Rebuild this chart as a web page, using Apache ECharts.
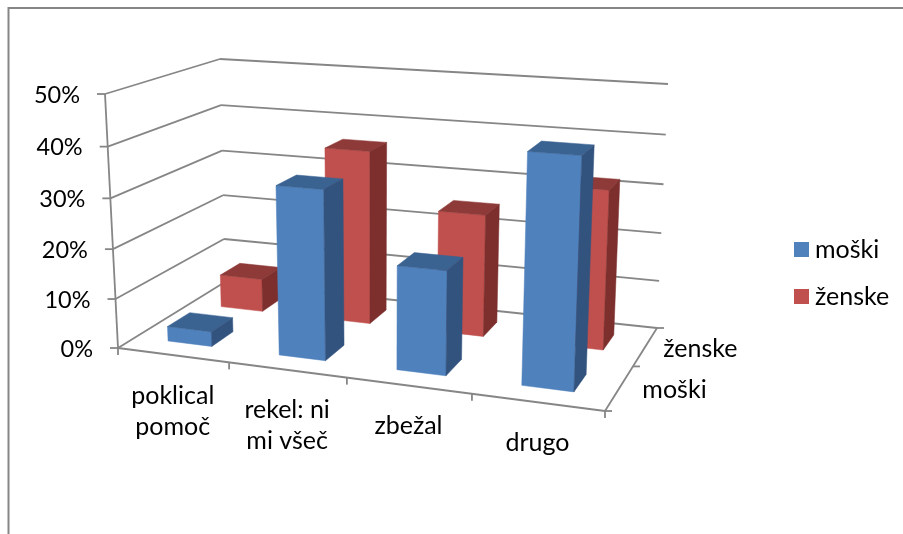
<!DOCTYPE html>
<html>
<head>
<meta charset="utf-8">
<style>
  html, body { margin: 0; padding: 0; background: #fff; }
  #chart { width: 903px; height: 534px; }
</style>
<script src="https://cdn.jsdelivr.net/npm/echarts@6/dist/echarts.min.js"></script>
</head>
<body>
<div id="chart"></div>
<script>
// data
const categories = ['poklical\npomoč', 'rekel: ni\nmi všeč', 'zbežal', 'drugo']
const depthLabels = ['moški', 'ženske']
const moski = [3, 33.5, 20.3, 43.6]
const zenske = [7, 36, 25, 32]
const yTicks = [0, 10, 20, 30, 40, 50]

const FONT = '25px Lato, Carlito, "Open Sans", sans-serif'
const FONT_NUM = '23.5px Lato, Carlito, "Open Sans", sans-serif'
const LINE = '#868686'
const BLUE = { front: '#4f81bd', top: '#3b6392', side: '#32537e' }
const RED = { front: '#c0504d', top: '#8e3a38', side: '#7d2f2d' }

// corners of the floor and of the top plane of the 3d box (front-left, front-right, back-right, back-left)
const floorQuad = [[118, 348], [605, 411], [657, 328], [225, 282]]
const topQuad = [[105, 94], [616, 130], [668, 84], [220, 59]]

// perspective divisor of the floor, the top plane shares it
const perspective = (q) => {
  const [[x0, y0], [x1, y1], [x2, y2], [x3, y3]] = q
  const dx1 = x1 - x2, dx2 = x3 - x2, sx = x0 - x1 + x2 - x3
  const dy1 = y1 - y2, dy2 = y3 - y2, sy = y0 - y1 + y2 - y3
  const det = dx1 * dy2 - dx2 * dy1
  return {
    g: 0.9 * (sx * dy2 - dx2 * sy) / det, // eased a bit so the category ticks land right
    h: (dx1 * sy - sx * dy1) / det
  }
}
const { g, h } = perspective(floorQuad)

const mapQuad = (q, u, v) => {
  const w = (a, b) => 1 + g * a + h * b
  const out = [0, 1].map((k) => (
    q[0][k] * (1 - u) * (1 - v) +
    q[1][k] * w(1, 0) * u * (1 - v) +
    q[2][k] * w(1, 1) * u * v +
    q[3][k] * w(0, 1) * (1 - u) * v
  ) / w(u, v))
  return out
}

// u across categories, v into the depth, t up the value axis, all 0..1
const project = (u, v, t) => {
  const a = mapQuad(floorQuad, u, v)
  const b = mapQuad(topQuad, u, v)
  const tt = t * (1 - 0.045 * (1 - t))
  return [a[0] + (b[0] - a[0]) * tt, a[1] + (b[1] - a[1]) * tt]
}

// grid pixel -> box fractions, so the value scale stays with the axes
const toU = (px, sys) => (px - sys.x) / sys.width
const toT = (py, sys) => (sys.y + sys.height - py) / sys.height

const lineEl = (a, b) => ({
  type: 'line',
  shape: { x1: a[0], y1: a[1], x2: b[0], y2: b[1] },
  style: { stroke: LINE, lineWidth: 1.8 }
})

const textEl = (text, x, y, align, verticalAlign, font) => ({
  type: 'text',
  style: { text, x, y, align, verticalAlign, font: font || FONT, fill: '#000', lineHeight: 31 }
})

// one bar, drawn as front, top and side faces
const renderBar = (depthIndex, colors) => (params, api) => {
  const sys = params.coordSys
  const p = api.coord([api.value(0), api.value(1)])
  const u = toU(p[0], sys)
  const t = toT(p[1], sys)
  const du = 0.05
  const v0 = (depthIndex + 0.5) / 2 - 0.1
  const v1 = v0 + 0.2
  const u0 = u - du
  const u1 = u + du
  const face = (points, fill) => ({
    type: 'polygon',
    shape: { points },
    style: { fill, stroke: fill, lineWidth: 0.5 }
  })
  return {
    type: 'group',
    children: [
      face([project(u0, v0, 0), project(u1, v0, 0), project(u1, v0, t), project(u0, v0, t)], colors.front),
      face([project(u0, v0, t), project(u1, v0, t), project(u1, v1, t), project(u0, v1, t)], colors.top),
      face([project(u1, v0, 0), project(u1, v1, 0), project(u1, v1, t), project(u1, v0, t)], colors.side)
    ]
  }
}

// gridlines and value labels, one item per tick
const renderGridline = (params, api) => {
  const sys = params.coordSys
  const val = api.value(0)
  const t = toT(api.coord([0, val])[1], sys)
  const a = project(0, 0, t)
  const b = project(0, 1, t)
  const c = project(1, 1, t)
  return {
    type: 'group',
    children: [
      lineEl(a, b),
      lineEl(b, c),
      lineEl([a[0] - 8, a[1]], a),
      textEl(val + '%', a[0] - 25, a[1] + 1, 'right', 'middle', FONT_NUM)
    ]
  }
}

// category ticks and labels on the front edge
const renderCategory = (params, api) => {
  const sys = params.coordSys
  const i = api.value(0)
  const u = toU(api.coord([i, 0])[0], sys)
  const step = 1 / categories.length
  const base = project(u, 0, 0)
  const tickAt = project(u + step / 2, 0, 0)
  return {
    type: 'group',
    children: [
      lineEl(tickAt, [tickAt[0], tickAt[1] + 7]),
      textEl(categories[i], base[0], base[1] + 25, 'center', 'top')
    ]
  }
}

// the box edges that are not gridlines, plus the depth axis
const renderFrame = () => {
  const children = [
    lineEl(project(0, 0, 0), project(0, 0, 1)),
    lineEl(project(0, 0, 0), project(1, 0, 0)),
    lineEl(project(1, 0, 0), project(1, 1, 0)),
    lineEl(project(0, 0, 0), [project(0, 0, 0)[0], project(0, 0, 0)[1] + 7])
  ]
  ;[0, 0.5, 1].forEach((v) => {
    const p = project(1, v, 0)
    children.push(lineEl(p, [p[0] + 7, p[1]]))
  })
  depthLabels.forEach((name, i) => {
    const p = project(1, (i + 0.5) / depthLabels.length, 0)
    children.push(textEl(name, p[0] + 55, p[1] + 2, 'center', 'middle'))
  })
  return { type: 'group', children }
}

const chart = echarts.init(document.getElementById('chart'))
chart.setOption({
  animation: false,
  backgroundColor: '#fff',
  graphic: [
    {
      type: 'polyline',
      silent: true,
      shape: { points: [[8.5, 534], [8.5, 8], [903, 8]] },
      style: { stroke: LINE, lineWidth: 2, fill: null }
    }
  ],
  legend: {
    orient: 'vertical',
    left: 794,
    top: 237,
    padding: 0,
    itemWidth: 15,
    itemHeight: 15,
    itemGap: 22,
    icon: 'rect',
    data: ['moški', 'ženske'],
    textStyle: { fontFamily: 'Lato', fontSize: 25, color: '#000', padding: [0, 0, 0, 1] }
  },
  grid: { left: 100, right: 100, top: 100, bottom: 100 },
  xAxis: { type: 'category', data: categories, show: false },
  yAxis: { type: 'value', min: 0, max: 50, interval: 10, show: false },
  series: [
    {
      type: 'custom',
      name: 'frame',
      z: 1,
      silent: true,
      data: [[0]],
      renderItem: renderFrame
    },
    {
      type: 'custom',
      name: 'grid',
      z: 1,
      silent: true,
      data: yTicks.map((v) => [v]),
      encode: { y: 0 },
      renderItem: renderGridline
    },
    {
      type: 'custom',
      name: 'labels',
      z: 1,
      silent: true,
      data: categories.map((c, i) => [i]),
      encode: { x: 0 },
      renderItem: renderCategory
    },
    {
      type: 'custom',
      name: 'ženske',
      z: 2,
      silent: true,
      itemStyle: { color: RED.front },
      data: zenske.map((v, i) => [i, v]),
      encode: { x: 0, y: 1 },
      renderItem: renderBar(1, RED)
    },
    {
      type: 'custom',
      name: 'moški',
      z: 3,
      silent: true,
      itemStyle: { color: BLUE.front },
      data: moski.map((v, i) => [i, v]),
      encode: { x: 0, y: 1 },
      renderItem: renderBar(0, BLUE)
    }
  ]
})
</script>
</body>
</html>
